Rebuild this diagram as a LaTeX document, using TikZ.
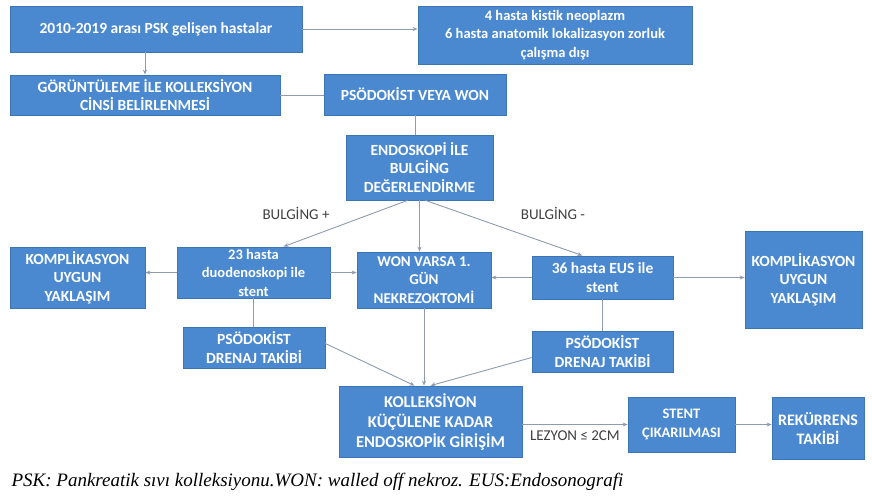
\documentclass[tikz,border=0pt]{standalone}
\usepackage{fontspec}
\setmainfont{Carlito}
\newfontfamily\capfont{Liberation Serif}
\usetikzlibrary{arrows.meta,calc}
\definecolor{boxblue}{HTML}{4A89D0}
\definecolor{boxedge}{HTML}{3C74B4}
\definecolor{linegray}{HTML}{8F9CB0}
\tikzset{
  bx/.style={draw=boxedge,line width=0.8pt,fill=boxblue,text=white,font=\bfseries\fontsize{15.5}{18.5}\selectfont,align=center,inner sep=1pt},
  sm/.style={font=\bfseries\fontsize{14.5}{18.5}\selectfont},
  ln/.style={draw=linegray,line width=0.9pt},
  ar/.style={ln,-{Stealth[length=5pt,width=4pt]}},
  lbl/.style={font=\fontsize{15}{17}\selectfont,text=black!75}
}
\begin{document}
\begin{tikzpicture}[x=1pt,y=-1pt]
\useasboundingbox[fill=white] (0,0) rectangle (872,499);
\node[bx,minimum width=292pt,minimum height=46pt] (n1) at (156,29) {2010-2019 arası PSK gelişen hastalar};
\node[bx,sm,minimum width=274pt,minimum height=58pt] (n2) at (555,35) {4 hasta kistik neoplazm\\6 hasta anatomik lokalizasyon zorluk\\çalışma dışı};
\node[bx,minimum width=270pt,minimum height=40pt] (n3) at (145,95) {GÖRÜNTÜLEME İLE KOLLEKSİYON\\CİNSİ BELİRLENMESİ};
\node[bx,minimum width=182pt,minimum height=41pt] (n4) at (415,94.5) {PSÖDOKİST VEYA WON};
\node[bx,minimum width=147pt,minimum height=65pt] (n5) at (419.5,167.5) {ENDOSKOPİ İLE\\BULGİNG\\DEĞERLENDİRME};
\node[bx,minimum width=135pt,minimum height=61pt] (kl) at (77.5,277.5) {KOMPLİKASYON\\UYGUN\\YAKLAŞIM};
\node[bx,sm,minimum width=153pt,minimum height=51pt] (h23) at (253.5,272.5) {23 hasta\\duodenoskopi ile\\stent};
\node[bx,font=\bfseries\fontsize{15}{18.5}\selectfont,minimum width=134pt,minimum height=56pt] (won) at (424,280) {WON VARSA 1.\\GÜN\\NEKREZOKTOMİ};
\node[bx,sm,font=\bfseries\fontsize{15.5}{18.5}\selectfont,minimum width=141pt,minimum height=43pt] (h36) at (602.5,277.5) {36 hasta EUS ile\\stent};
\node[bx,minimum width=117pt,minimum height=97pt] (kr) at (803.5,279.5) {KOMPLİKASYON\\UYGUN\\YAKLAŞIM};
\node[bx,minimum width=142pt,minimum height=41pt] (pl) at (254,347.5) {PSÖDOKİST\\DRENAJ TAKİBİ};
\node[bx,minimum width=141pt,minimum height=41pt] (pr) at (602.5,351.5) {PSÖDOKİST\\DRENAJ TAKİBİ};
\node[bx,font=\bfseries\fontsize{16.5}{20}\selectfont,minimum width=183pt,minimum height=71pt] (kol) at (430.5,421.5) {KOLLEKSİYON\\KÜÇÜLENE KADAR\\ENDOSKOPİK GİRİŞİM};
\node[bx,font=\bfseries\fontsize{14.5}{18.5}\selectfont,minimum width=107pt,minimum height=55pt] (st) at (681.5,424.5) {STENT\\ÇIKARILMASI};
\node[bx,font=\bfseries\fontsize{16}{19}\selectfont,minimum width=92pt,minimum height=62pt] (rek) at (818,428) {REKÜRRENS\\TAKİBİ};
\node[anchor=west,font=\capfont\itshape\fontsize{19}{22}\selectfont] (cap) at (8,482) {PSK: Pankreatik sıvı kolleksiyonu.WON: walled off nekroz. EUS:Endosonografi};
\node[lbl] (bp) at (296,213) {BULGİNG +};
\node[lbl] (bm) at (553,213) {BULGİNG -};
% connectors
\draw[ar] (n1.east) -- (n2.west |- n1.east);
\draw[ar] (n1.south -| n3.north) -- (n3.north);
\draw[ln] (n3.east) -- (n4.west |- n3.east);
\draw[ln] (n4.south) -- (n5.north -| n4.south);
\draw[ar] ([xshift=-12pt]n5.south) -- ([xshift=30pt]h23.north);
\draw[ar] ([xshift=6pt]n5.south) -- ([xshift=-20pt]h36.north);
\draw[ar] (n5.south) -- (won.north -| n5.south);
\draw[ar] (h23.west) -- (kl.east |- h23.west);
\draw[ar] (h23.east) -- (won.west |- h23.east);
\draw[ar] (h36.west) -- (won.east |- h36.west);
\draw[ar] (h36.east) -- (kr.west |- h36.east);
\draw[ln] (h23.south) -- (pl.north -| h23.south);
\draw[ln] (h36.south) -- (pr.north -| h36.south);
\draw[ar] (won.south) -- (kol.north -| won.south);
\draw[ar] ([yshift=4pt]pl.east) -- ([xshift=-16pt]kol.north);
\draw[ar] ([yshift=-6pt]pr.west) -- ([xshift=0pt]kol.north);
\draw[ar] (kol.east |- st.west) -- (st.west) node[midway,below=2pt,lbl] (lz) {LEZYON ≤ 2CM};
\draw[ar] (st.east) -- (rek.west |- st.east);
\end{tikzpicture}
\end{document}
